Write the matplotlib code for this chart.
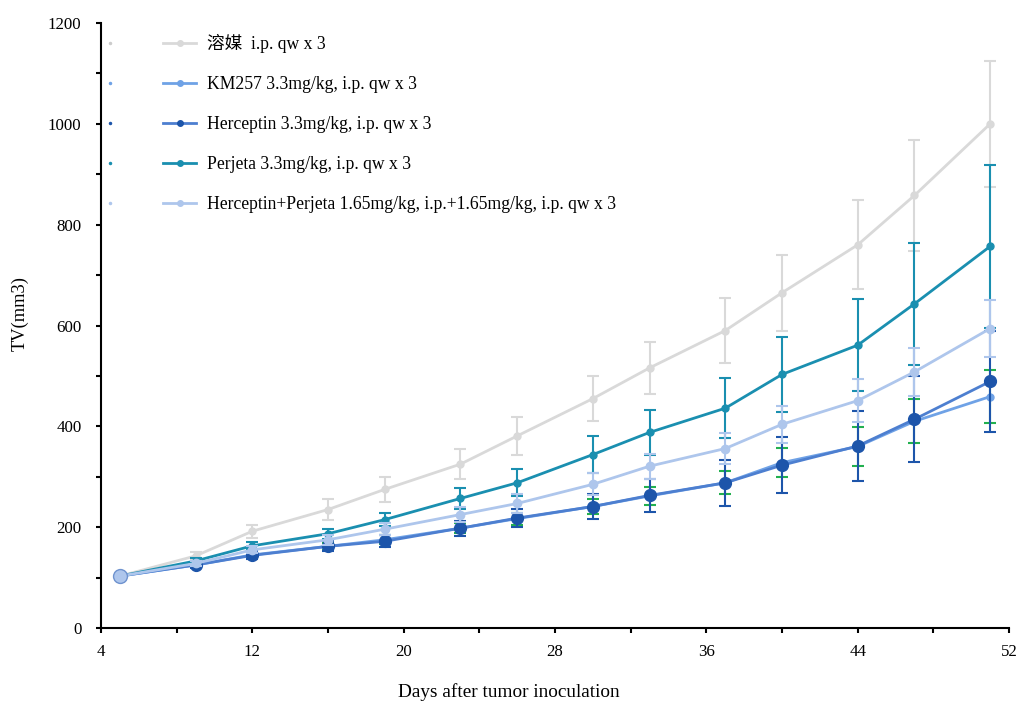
import matplotlib
matplotlib.use("Agg")
import matplotlib.pyplot as plt
from matplotlib.ticker import MultipleLocator, FixedLocator

plt.rcParams['font.family'] = ['Liberation Serif', 'Noto Sans CJK SC', 'DejaVu Sans']

days = [5, 9, 12, 16, 19, 23, 26, 30, 33, 37, 40, 44, 47, 51]

labels = ["溶媒  i.p. qw x 3",
          "KM257 3.3mg/kg, i.p. qw x 3",
          "Herceptin 3.3mg/kg, i.p. qw x 3",
          "Perjeta 3.3mg/kg, i.p. qw x 3",
          "Herceptin+Perjeta 1.65mg/kg, i.p.+1.65mg/kg, i.p. qw x 3"]

x_ticks = [4, 12, 20, 28, 36, 44, 52]

vehicle = [103, 143, 192, 235, 275, 325, 381, 455, 516, 590, 665, 760, 858, 1000]
vehicle_err = [3, 7, 13, 20, 25, 30, 37, 45, 52, 65, 75, 88, 110, 125]

km257 = [103, 125, 145, 162, 175, 198, 217, 241, 262, 288, 328, 360, 410, 459]
km257_err = [2, 4, 6, 7, 9, 10, 12, 15, 18, 23, 29, 38, 44, 52]

herceptin = [103, 125, 144, 162, 172, 198, 218, 241, 263, 288, 323, 361, 414, 489]
herceptin_err = [2, 5, 8, 10, 12, 15, 18, 25, 33, 45, 56, 70, 85, 100]

perjeta = [103, 133, 163, 187, 215, 257, 288, 344, 388, 436, 503, 561, 643, 757]
perjeta_err = [2, 5, 7, 10, 13, 20, 27, 36, 44, 59, 75, 91, 121, 161]

combo = [103, 128, 155, 175, 196, 225, 247, 285, 321, 356, 404, 451, 508, 594]
combo_err = [2, 5, 7, 10, 12, 15, 18, 22, 25, 30, 37, 43, 48, 57]

fig = plt.figure(figsize=(10.18, 7.02), dpi=100)
ax = fig.add_axes([0.0992, 0.1054, 0.892, 0.8618])

series = [
    (vehicle, vehicle_err, '#d9d9d9', '#d9d9d9', '#d9d9d9', 5, 3),
    (km257, km257_err, '#6fa2e6', '#6fa2e6', '#22b04f', 5, 4),
    (herceptin, herceptin_err, '#4d7fd0', '#1d55aa', '#1d55aa', 8.5, 5),
    (perjeta, perjeta_err, '#1a8fb0', '#1a8fb0', '#1a8fb0', 5, 6),
    (combo, combo_err, '#aec6ec', '#aec6ec', '#aec6ec', 6, 7),
]

for (vals, err, lc, mc, ec, ms, z), lab in zip(series, labels):
    ax.errorbar(days, vals, yerr=err, fmt='none', ecolor=ec, elinewidth=1.5,
                capsize=4, capthick=1.5, zorder=z)
    ax.plot(days, vals, '-o', color=lc, markerfacecolor=mc, markeredgecolor=mc,
            markersize=ms, linewidth=2, zorder=z + 0.5, label=lab)

# first point large light circle
ax.plot([days[0]], [combo[0]], 'o', markersize=10, markerfacecolor='#aec6ec',
        markeredgecolor='#6f93cf', zorder=10)

leg_handles = []
for (vals, err, lc, mc, ec, ms, z), lab in zip(series, labels):
    h, = ax.plot([], [], '-o', color=lc, markerfacecolor=mc, markeredgecolor=mc,
                 markersize=4, linewidth=2)
    leg_handles.append(h)
ax.legend(leg_handles, labels, loc='upper left', bbox_to_anchor=(0.055, 1.002),
          frameon=False, fontsize=12.7, labelspacing=1.3, handlelength=1.85,
          handletextpad=0.62, borderaxespad=0.3)

# tiny stray legend dots near the axis
for i, (vals, err, lc, mc, ec, ms, z) in enumerate(series):
    ax.plot([0.01], [0.967 - i * 0.0662], 'o', markersize=1.5, color=mc if i != 0 else '#cccccc',
            transform=ax.transAxes, clip_on=False)

ax.set_xlim(4, 52)
ax.set_ylim(0, 1200)
ax.xaxis.set_major_locator(FixedLocator(x_ticks))
ax.xaxis.set_minor_locator(MultipleLocator(4))
ax.yaxis.set_major_locator(MultipleLocator(200))
ax.yaxis.set_minor_locator(MultipleLocator(100))
ax.tick_params(axis='both', which='both', direction='out', width=1.5, length=3.5, labelsize=12.2)
ax.tick_params(axis='x', pad=8)
ax.tick_params(axis='y', pad=10.5)
for s in ['top', 'right']:
    ax.spines[s].set_visible(False)
for s in ['left', 'bottom']:
    ax.spines[s].set_linewidth(1.5)

ax.set_ylabel('TV(mm3)', fontsize=13.3)
ax.yaxis.set_label_coords(-0.080, 0.52)
ax.set_xlabel('Days after tumor inoculation', fontsize=13.9)
ax.xaxis.set_label_coords(0.449, -0.091)

fig.savefig('out.png', dpi=100)
